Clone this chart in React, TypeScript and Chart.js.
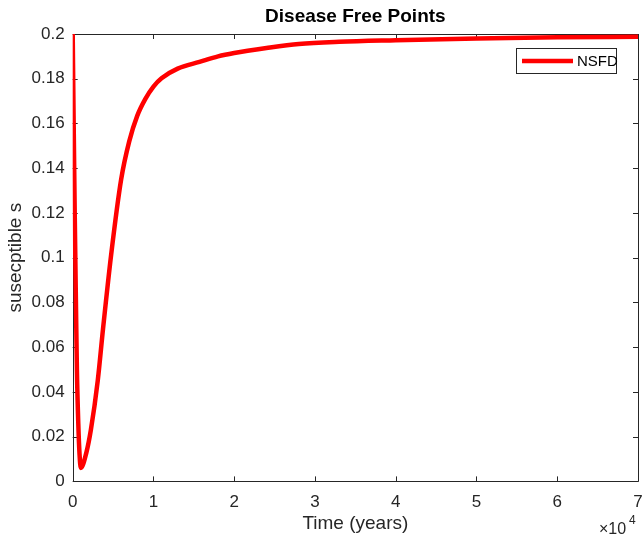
import React, { useEffect, useRef } from "react";
import { Chart, registerables } from "chart.js";

Chart.register(...registerables);

// Data
const timeYears = [0, 120, 250, 400, 520, 700, 850, 1000, 1700, 2250, 3100, 3750, 4750, 6000, 7000, 8000, 9000, 10000, 11000, 13000, 15700, 18000, 20000, 24000, 28000, 33000, 40000, 50000, 60000, 70000];
const susceptible = [0.2, 0.16, 0.12, 0.08, 0.05, 0.025, 0.012, 0.006, 0.013, 0.023, 0.045, 0.068, 0.101, 0.135, 0.152, 0.1635, 0.171, 0.1765, 0.1802, 0.1845, 0.1875, 0.19, 0.1915, 0.1937, 0.1955, 0.1965, 0.1972, 0.198, 0.1985, 0.1988];
const seriesName = "NSFD";
const chartTitle = "Disease Free Points";
const xTitle = "Time (years)";
const yTitle = "susecptible s";
const xTickValues = [0, 10000, 20000, 30000, 40000, 50000, 60000, 70000];
const yTickValues = [0, 0.02, 0.04, 0.06, 0.08, 0.1, 0.12, 0.14, 0.16, 0.18, 0.2];

const FONT = "'Liberation Sans', Arial, sans-serif";
const AXIS_COLOR = "#262626";

const decorPlugin = {
  id: "decor",
  beforeDatasetsDraw(chart: any) {
    const { ctx, chartArea } = chart;
    const { left, right, top, bottom } = chartArea;
    const xs = chart.scales.x;
    const ys = chart.scales.y;
    ctx.save();
    ctx.strokeStyle = AXIS_COLOR;
    ctx.lineWidth = 1;
    ctx.beginPath();
    ctx.rect(Math.round(left) + 0.5, Math.round(top) + 0.5, Math.round(right) - Math.round(left), Math.round(bottom) - Math.round(top));
    ctx.stroke();
    const tl = 5;
    ctx.beginPath();
    for (const v of xTickValues) {
      const px = Math.round(xs.getPixelForValue(v)) + 0.5;
      ctx.moveTo(px, bottom);
      ctx.lineTo(px, bottom - tl);
      ctx.moveTo(px, top);
      ctx.lineTo(px, top + tl);
    }
    for (const v of yTickValues) {
      const py = Math.round(ys.getPixelForValue(v)) + 0.5;
      ctx.moveTo(left, py);
      ctx.lineTo(left + tl, py);
      ctx.moveTo(right, py);
      ctx.lineTo(right - tl, py);
    }
    ctx.stroke();
    ctx.restore();
  },
  afterDraw(chart: any) {
    const { ctx, chartArea } = chart;
    const { left, right, top, bottom } = chartArea;
    const cx = (left + right) / 2;
    const cy = (top + bottom) / 2;
    ctx.save();
    // title
    ctx.fillStyle = "#000";
    ctx.font = `bold 19px ${FONT}`;
    ctx.textAlign = "center";
    ctx.textBaseline = "middle";
    ctx.fillText(chartTitle, cx, 17);
    // x title
    ctx.fillStyle = AXIS_COLOR;
    ctx.font = `19px ${FONT}`;
    ctx.fillText(xTitle, cx, 524);
    // y title
    ctx.save();
    ctx.translate(16, cy);
    ctx.rotate(-Math.PI / 2);
    ctx.fillText(yTitle, 0, 0);
    ctx.restore();
    // exponent
    ctx.textAlign = "left";
    ctx.font = `16px ${FONT}`;
    ctx.fillText("\u00d710", 599, 530);
    ctx.font = `12px ${FONT}`;
    ctx.fillText("4", 629, 521);
    // legend
    const bx = 516.5, by = 48.5, bw = 100, bh = 25;
    ctx.fillStyle = "#fff";
    ctx.fillRect(bx, by, bw, bh);
    ctx.strokeStyle = AXIS_COLOR;
    ctx.lineWidth = 1;
    ctx.strokeRect(bx, by, bw, bh);
    ctx.strokeStyle = "#ff0000";
    ctx.lineWidth = 4.5;
    ctx.beginPath();
    ctx.moveTo(522, 61);
    ctx.lineTo(573, 61);
    ctx.stroke();
    ctx.fillStyle = "#000";
    ctx.font = `15px ${FONT}`;
    ctx.textBaseline = "middle";
    ctx.fillText(seriesName, 577, 61.5);
    ctx.restore();
  },
};

export default function App() {
  const canvasRef = useRef<HTMLCanvasElement | null>(null);

  useEffect(() => {
    document.body.style.margin = "0";
    const canvas = canvasRef.current;
    if (!canvas) return;
    const points = timeYears.map((t, i) => ({ x: t, y: susceptible[i] }));
    const fmtY = (v: number) => String(Number(Number(v).toFixed(2)));
    const chart = new Chart(canvas, {
      type: "line",
      data: {
        datasets: [
          {
            label: seriesName,
            data: points,
            borderColor: "#ff0000",
            backgroundColor: "#ff0000",
            borderWidth: 4.5,
            pointRadius: 0,
            cubicInterpolationMode: "monotone",
            fill: false,
          },
        ],
      },
      options: {
        animation: false,
        responsive: false,
        maintainAspectRatio: false,
        devicePixelRatio: 1,
        layout: { padding: { top: 34, right: 4, left: 0, bottom: 0 } },
        plugins: {
          legend: { display: false },
          title: { display: false },
          tooltip: { enabled: false },
        },
        scales: {
          x: {
            type: "linear",
            min: 0,
            max: 70000,
            afterBuildTicks: (scale: any) => {
              scale.ticks = xTickValues.map((v) => ({ value: v }));
            },
            afterFit: (scale: any) => {
              scale.height = 57.6;
              scale.paddingLeft = 0;
              scale.paddingRight = 0;
            },
            grid: { display: false, drawTicks: false },
            border: { display: false },
            ticks: {
              padding: 10.5,
              color: AXIS_COLOR,
              font: { family: FONT, size: 17 },
              maxRotation: 0,
              autoSkip: false,
              callback: (v: any) => String(Number(v) / 10000),
            },
          },
          y: {
            type: "linear",
            min: 0,
            max: 0.2,
            afterBuildTicks: (scale: any) => {
              scale.ticks = yTickValues.map((v) => ({ value: v }));
            },
            afterFit: (scale: any) => {
              scale.width = 72.7;
              scale.paddingTop = 0;
              scale.paddingBottom = 0;
            },
            grid: { display: false, drawTicks: false },
            border: { display: false },
            ticks: {
              padding: 8,
              color: AXIS_COLOR,
              font: { family: FONT, size: 17 },
              autoSkip: false,
              callback: (v: any) => fmtY(v),
            },
          },
        },
      } as any,
      plugins: [decorPlugin],
    });
    return () => chart.destroy();
  }, []);

  return (
    <div style={{ position: "absolute", left: 0, top: 0, width: 642, height: 539, background: "#fff" }}>
      <canvas ref={canvasRef} width={642} height={539} style={{ width: 642, height: 539, display: "block" }} />
    </div>
  );
}
